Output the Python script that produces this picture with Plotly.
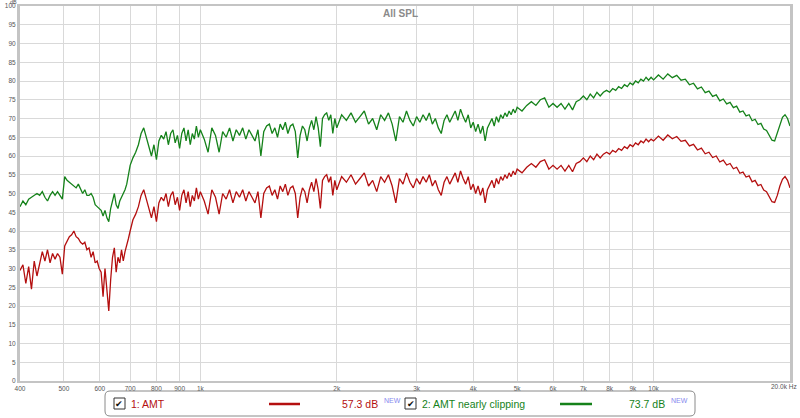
import plotly.graph_objects as go

# ---------------- data ----------------
freq_a = [400, 406, 412, 418, 424, 430, 436, 442, 448, 454,
          460, 466, 472, 478, 484, 490, 496, 502, 508, 514,
          520, 526, 532, 538, 544, 550, 556, 562, 568, 574,
          580, 586, 592, 598, 604, 610, 616, 622, 628, 634,
          640, 646, 652, 658, 664, 670, 676, 682, 688, 694]
amt_a = [29.5, 31, 26, 30.5, 24.5, 32, 28, 31, 34.5, 32,
         35, 31.5, 34, 32.5, 34, 33, 28.5, 36, 37.5, 38.5,
         39, 40, 38.5, 38, 37, 36.5, 37, 35, 35.5, 33,
         34.5, 31.5, 32, 30, 29, 22.5, 30, 24, 18.7, 27,
         33, 35.5, 29, 33, 31.5, 35, 32, 34.5, 36, 38]
clip_a = [46.5, 48, 47, 48.5, 49, 49.5, 50, 49.5, 50.5, 49,
          48, 49.5, 50.5, 49.5, 50.5, 49.5, 48.5, 54.5, 53.5, 53,
          52.5, 52, 51.5, 52.5, 51, 50, 51, 49.5, 49.5, 50,
          49, 47, 46.5, 46, 45.5, 44, 45.5, 43.5, 42.5, 46,
          48.5, 50, 47, 46, 48, 49, 50, 51, 52.5, 55]

freq_b = [700, 710, 720, 730, 740, 750, 760, 770, 780, 790,
          800, 810, 820, 830, 840, 850, 860, 870, 880, 890,
          900, 910, 920, 930, 940, 950, 960, 970, 980, 990]
amt_b = [40, 43, 44.5, 46.5, 49.5, 51, 48.5, 46, 43.5, 46.5,
         42.5, 47.5, 49, 48, 50, 46.5, 49.5, 50.5, 47, 49,
         45.5, 49.5, 51, 47.5, 50.5, 46.5, 49.5, 48, 51.5, 48.5]
clip_b = [57.5, 59.5, 61, 63, 66, 67.5, 65, 62.5, 60, 63,
          59, 64, 65.5, 64.5, 66.5, 63, 66, 67, 63.5, 65.5,
          62, 66, 67.5, 64, 67, 63, 66, 64.5, 68, 65]

freq_c = [1000, 1020, 1040, 1060, 1080, 1100, 1120, 1140, 1160, 1180,
          1200, 1220, 1240, 1260, 1280, 1300, 1320, 1340, 1360, 1380,
          1400, 1420, 1440, 1460, 1480, 1500, 1520, 1540, 1560, 1580,
          1600, 1620, 1640, 1660, 1680, 1700, 1720, 1740, 1760, 1780,
          1800, 1820, 1840, 1860, 1880, 1900, 1920, 1940, 1960, 1980]
amt_c = [50.5, 48, 44.5, 51, 49, 44.5, 50, 48.5, 51, 47.5,
         50.5, 49, 51, 48, 50.5, 49, 47.5, 50.5, 43.5, 50,
         51.5, 52, 49.5, 51, 48.5, 52, 50.5, 52.5, 49.5, 51.5,
         52, 50, 43.5, 49, 51.5, 50.5, 47.5, 51, 53, 50.5,
         54, 51, 46, 53.5, 54.5, 55, 53, 54.5, 49.5, 53.5]
clip_c = [67, 64.5, 61, 67.5, 65.5, 61, 66.5, 65, 67.5, 64,
          67, 65.5, 67.5, 64.5, 67, 65.5, 64, 67, 60, 66.5,
          68, 68.5, 66, 67.5, 65, 68.5, 67, 69, 66, 68,
          68.5, 66.5, 59.5, 65.5, 68, 67, 64, 67.5, 69.5, 67,
          70.5, 67.5, 62.5, 70, 71, 71.5, 69.5, 71, 66, 70]

freq_d = [2000, 2050, 2100, 2150, 2200, 2250, 2300, 2350, 2400, 2450,
          2500, 2550, 2600, 2650, 2700, 2750, 2800, 2850, 2900, 2950,
          3000, 3050, 3100, 3150, 3200, 3250, 3300, 3350, 3400, 3450,
          3500, 3550, 3600, 3650, 3700, 3750, 3800, 3850, 3900, 3950,
          4000, 4050, 4100, 4150, 4200, 4250, 4300, 4350, 4400, 4450,
          4500, 4550, 4600, 4650, 4700, 4750, 4800, 4850, 4900, 4950]
amt_d = [51, 54.5, 53, 55, 52.5, 54, 55.5, 52, 53.5, 50.5,
         54.5, 53, 55, 52, 47.5, 54, 52.5, 55.5, 53, 51.5,
         54, 52.5, 54.5, 53, 55, 52, 53.5, 51, 49.5, 53,
         54.5, 52.5, 54, 55.5, 53, 56, 54, 52.5, 54.5, 51,
         52.5, 50, 52, 49.5, 51.5, 47.5, 51, 52.5, 53.5, 51.5,
         54, 52.5, 54.5, 53.5, 55, 54, 55.5, 54.5, 56, 55]
clip_d = [67.5, 71, 69.5, 71.5, 69, 70.5, 72, 68.5, 70, 67,
          71, 69.5, 71.5, 68.5, 64, 70.5, 69, 72, 69.5, 68,
          70.5, 69, 71, 69.5, 71.5, 68.5, 70, 67.5, 66, 69.5,
          71, 69, 70.5, 72, 69.5, 72.5, 70.5, 69, 71, 67.5,
          69, 66.5, 68.5, 66, 68, 64, 67.5, 69, 70, 68,
          70.5, 69, 71, 70, 71.5, 70.5, 72, 71, 72.5, 71.5]

freq_e = [5000, 5125, 5250, 5375, 5500, 5625, 5750, 5875, 6000, 6125,
          6250, 6375, 6500, 6625, 6750, 6875, 7000, 7125, 7250, 7375,
          7500, 7625, 7750, 7875, 8000, 8125, 8250, 8375, 8500, 8625,
          8750, 8875, 9000, 9125, 9250, 9375, 9500, 9625, 9750, 9875]
amt_e = [56.5, 55.5, 57, 58, 57, 58.5, 59, 56.5, 57.5, 56.5,
         57.5, 56, 57.5, 55.8, 58, 58.5, 59.5, 58.5, 60, 59,
         60.5, 59.5, 60.5, 61, 60.5, 61.5, 61, 62, 61.5, 62.5,
         62, 63, 62.5, 63.5, 63, 64, 63.5, 64.5, 63.8, 64.5]
clip_e = [73, 72, 73.5, 74.5, 73.5, 75, 75.5, 73, 74, 73,
          74, 72.5, 74, 72.3, 74.5, 75, 76, 75, 76.5, 75.5,
          77, 76, 77, 77.5, 77, 78, 77.5, 78.5, 78, 79,
          78.5, 79.5, 79, 80, 79.5, 80.5, 80, 81, 80.2, 81]

freq_f = [10000, 10250, 10500, 10750, 11000, 11250, 11500, 11750, 12000, 12250,
          12500, 12750, 13000, 13250, 13500, 13750, 14000, 14250, 14500, 14750,
          15000, 15250, 15500, 15750, 16000, 16250, 16500, 16750, 17000, 17250,
          17500, 17750, 18000, 18250, 18500, 18750, 19000, 19250, 19500, 19750,
          20000]
amt_f = [64, 65.3, 64.2, 65.6, 64.6, 65.2, 63.9, 64.2, 62.7, 63.1,
         61.6, 62.1, 60.6, 61.0, 59.6, 60.0, 58.4, 58.9, 57.6, 58.0,
         56.6, 57.0, 55.4, 55.7, 54.4, 54.7, 53.1, 53.5, 52.1, 52.4,
         50.9, 50.5, 49, 47.8, 47.6, 49.5, 52, 53.8, 54.5, 53.5,
         51.5]
clip_f = [80.3, 81.6, 80.5, 81.9, 80.9, 81.5, 80.2, 80.5, 79.0, 79.4,
          77.9, 78.4, 76.9, 77.3, 75.9, 76.3, 74.7, 75.2, 73.9, 74.3,
          72.9, 73.3, 71.7, 72.0, 70.7, 71.0, 69.4, 69.8, 68.4, 68.7,
          67.2, 66.8, 65.3, 64.2, 64, 66, 68.5, 70.3, 71, 70,
          68]

x_tick_vals = [400, 500, 600, 700, 800, 900, 1000, 2000, 3000, 4000,
               5000, 6000, 7000, 8000, 9000, 10000]
x_tick_text = ["400", "500", "600", "700", "800", "900", "1k", "2k", "3k", "4k",
               "5k", "6k", "7k", "8k", "9k", "10k"]
x_end_label = "20.0k Hz"
y_tick_vals = list(range(0, 101, 5))

series_names = ["1: AMT", "2: AMT nearly clipping"]
series_levels = ["57.3 dB", "73.7 dB"]

freq = freq_a + freq_b + freq_c + freq_d + freq_e + freq_f
amt = amt_a + amt_b + amt_c + amt_d + amt_e + amt_f
clip = clip_a + clip_b + clip_c + clip_d + clip_e + clip_f
assert len(freq) == len(amt) == len(clip)

RED = "#b40f0f"
GREEN = "#15821a"

# ---------------- figure ----------------
W, H = 800, 418
L, R, T, B = 20, 790, 6, 381


def px(x):
    return (x - L) / (R - L)


def py(y):
    return (B - y) / (B - T)


fig = go.Figure()
fig.add_trace(go.Scatter(x=freq, y=clip, mode="lines", name=series_names[1],
                         line=dict(color=GREEN, width=1.3)))
fig.add_trace(go.Scatter(x=freq, y=amt, mode="lines", name=series_names[0],
                         line=dict(color=RED, width=1.3)))

axis_font = dict(family="Liberation Sans, Arial, sans-serif", size=6.5, color="#555555")

fig.update_layout(
    width=W, height=H,
    margin=dict(l=L, r=W - R, t=T, b=H - B, pad=0, autoexpand=False),
    paper_bgcolor="white", plot_bgcolor="white",
    showlegend=False,
    font=dict(family="Liberation Sans, Arial, sans-serif"),
    xaxis=dict(type="log", range=[2.60206, 4.30103],
               tickvals=x_tick_vals, ticktext=x_tick_text, tickfont=axis_font,
               showgrid=True, gridcolor="#d9d9d9", gridwidth=1,
               showline=True, linecolor="#c4c4c4", linewidth=2, mirror=True,
               ticks="", ticklen=0, zeroline=False, fixedrange=True,
               automargin=False, ticklabeloverflow="allow"),
    yaxis=dict(range=[0, 100], tickvals=y_tick_vals,
               ticktext=[str(v) for v in y_tick_vals], tickfont=axis_font,
               showgrid=True, gridcolor="#d9d9d9", gridwidth=1,
               showline=True, linecolor="#c4c4c4", linewidth=3, mirror=True,
               ticks="", ticklen=0, zeroline=False, fixedrange=True,
               automargin=False, ticklabeloverflow="allow"),
)

# label at the 20k end of the frequency axis
fig.add_annotation(x=px(799), y=py(386), xref="paper", yref="paper", text=x_end_label,
                   showarrow=False, font=axis_font, xanchor="right", yanchor="middle")

# title and unit
fig.add_annotation(x=px(400), y=py(13), xref="paper", yref="paper", text="<b>All SPL</b>",
                   showarrow=False, font=dict(size=10, color="#8a8a8a"),
                   xanchor="center", yanchor="middle")
fig.add_annotation(x=px(13), y=py(1.8), xref="paper", yref="paper", text="dB",
                   showarrow=False, font=dict(size=5.5, color="#555555"),
                   xanchor="center", yanchor="middle")

# legend box (REW style)
shapes = []
x0, x1, y0, y1, r = 105, 695, 391, 416, 5
path = (f"M {px(x0 + r)},{py(y0)} L {px(x1 - r)},{py(y0)} "
        f"Q {px(x1)},{py(y0)} {px(x1)},{py(y0 + r)} L {px(x1)},{py(y1 - r)} "
        f"Q {px(x1)},{py(y1)} {px(x1 - r)},{py(y1)} L {px(x0 + r)},{py(y1)} "
        f"Q {px(x0)},{py(y1)} {px(x0)},{py(y1 - r)} L {px(x0)},{py(y0 + r)} "
        f"Q {px(x0)},{py(y0)} {px(x0 + r)},{py(y0)} Z")
shapes.append(dict(type="path", path=path, xref="paper", yref="paper",
                   line=dict(color="#8a8a8a", width=1), fillcolor="white", layer="above"))

legend_items = [
    dict(cb=114, label_x=129, line_x=(269, 300), level_x=380, new_x=382, color=RED,
         name=series_names[0], level=series_levels[0]),
    dict(cb=405, label_x=420, line_x=(560, 592), level_x=667, new_x=669, color=GREEN,
         name=series_names[1], level=series_levels[1]),
]
for it in legend_items:
    shapes.append(dict(type="rect", xref="paper", yref="paper",
                       x0=px(it["cb"]), x1=px(it["cb"] + 11), y0=py(398), y1=py(409),
                       line=dict(color="#333333", width=1), fillcolor="white", layer="above"))
    shapes.append(dict(type="line", xref="paper", yref="paper",
                       x0=px(it["line_x"][0]), x1=px(it["line_x"][1]), y0=py(404), y1=py(404),
                       line=dict(color=it["color"], width=2.5), layer="above"))
    fig.add_annotation(x=px(it["cb"] + 5.5), y=py(403.5), xref="paper", yref="paper",
                       text="✔", showarrow=False, font=dict(size=9, color="#111111"),
                       xanchor="center", yanchor="middle")
    fig.add_annotation(x=px(it["label_x"]), y=py(404), xref="paper", yref="paper",
                       text=it["name"], showarrow=False,
                       font=dict(size=10.5, color=it["color"]),
                       xanchor="left", yanchor="middle")
    fig.add_annotation(x=px(it["level_x"]), y=py(404), xref="paper", yref="paper",
                       text=it["level"], showarrow=False,
                       font=dict(size=10.5, color=it["color"]),
                       xanchor="right", yanchor="middle")
    fig.add_annotation(x=px(it["new_x"]), y=py(400), xref="paper", yref="paper",
                       text="NEW", showarrow=False,
                       font=dict(size=7, color="#8888ee"),
                       xanchor="left", yanchor="middle")

fig.update_layout(shapes=shapes)
fig.write_html(
    "out.html",
    config={"displayModeBar": False},
    post_script="document.body.style.margin='0';document.body.style.overflow='hidden';",
)
